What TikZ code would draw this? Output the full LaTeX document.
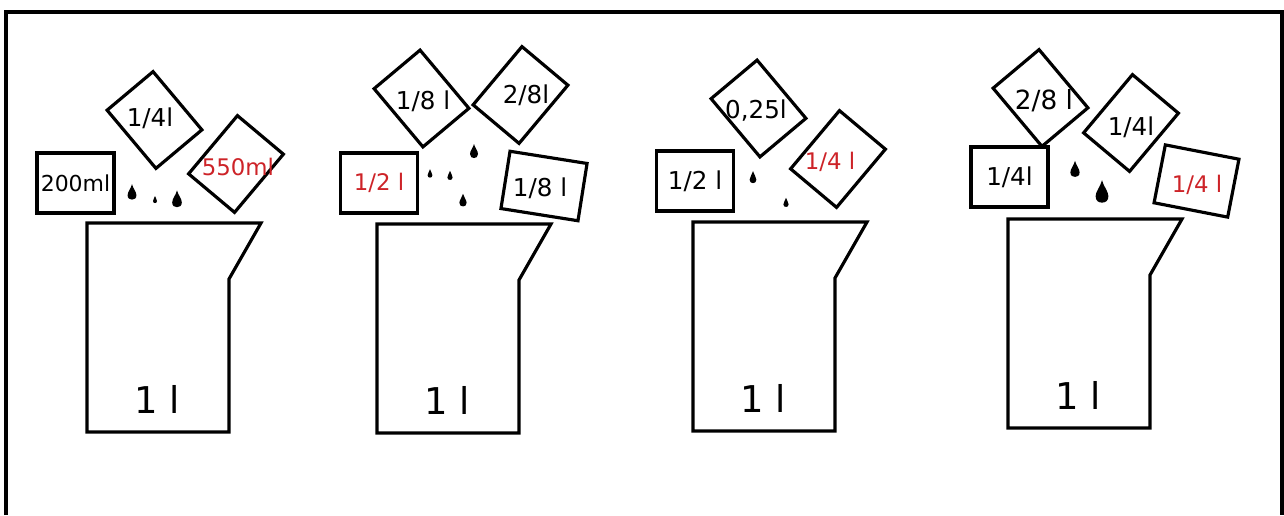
\documentclass[tikz,border=0pt]{standalone}
\usepackage{fontspec}
\setmainfont{DejaVu Sans}
\usepackage{xcolor}
\usepackage{tikz}
\definecolor{jugred}{RGB}{205,35,40}
\tikzset{
  frameline/.style={line width=1.8pt},
  jugline/.style  ={line width=1.8pt, line join=miter},
  labbox/.style   ={rectangle, draw=black, line width=1.8pt, minimum width=1.54cm,
                    minimum height=1.2cm, inner sep=0pt},
  tiltbox/.style  ={labbox, minimum width=1.2cm, minimum height=1.52cm},
  lbl/.style      ={font=\fontsize{14}{16}\selectfont, inner sep=0pt},
  lblbig/.style   ={lbl, font=\fontsize{15}{17}\selectfont},
  lblsm/.style    ={lbl, font=\fontsize{12.5}{14}\selectfont},
  lblred/.style   ={lbl, font=\fontsize{13}{15}\selectfont, text=jugred},
  jugtext/.style  ={font=\fontsize{21}{24}\selectfont, inner sep=0pt},
  jug/.pic={
    \draw[jugline] (0,0) -- (174,0) -- (142,56) -- (142,209) -- (0,209) -- cycle;
    \node[jugtext] (-vol) at (70,176) {1 l};
  },
  drop/.pic={
    \fill (0,-8) .. controls (-1,-4) and (-4,-1) .. (-4,2)
      .. controls (-4,5) and (-2,6) .. (0,6)
      .. controls (2,6) and (4,5) .. (4,2)
      .. controls (4,-1) and (1,-4) .. (0,-8) -- cycle;
  }
}
\begin{document}
\begin{tikzpicture}[x=0.02cm, y=-0.02cm]
  \useasboundingbox (0,0) rectangle (1284,515);
  \draw[frameline] (6,515) -- (6,12) -- (1282,12) -- (1282,515);

  % first jug
  \pic (jugA) at (87,223) {jug};
  \node[labbox, lblsm]        (boxA)  at (75.5,183)  {200ml};
  \node[tiltbox, rotate=40]   (leftA) at (154.5,120) {};
  \node[lbl]                  (txtA1) at (150,118)   {1/4l};
  \node[tiltbox, rotate=-40]  (rgtA)  at (236,164)   {};
  \node[lblred]               (txtA2) at (238,167)   {550ml};
  \pic[scale=1.1] at (132,193) {drop};
  \pic[scale=0.5] at (155,200) {drop};
  \pic[scale=1.2] at (177,200) {drop};

  % second jug
  \pic (jugB) at (377,224) {jug};
  \node[labbox, lblred]       (boxB)  at (379,183)   {1/2 l};
  \node[tiltbox, rotate=40]   (leftB) at (421.5,98.5) {};
  \node[lbl]                  (txtB1) at (423,101)   {1/8 l};
  \node[tiltbox, rotate=-40]  (rgtB)  at (520.5,95)  {};
  \node[lbl]                  (txtB2) at (526,95)    {2/8l};
  \node[labbox, minimum width=1.56cm, minimum height=1.16cm, rotate=-9]
                              (sideB) at (544,186)   {};
  \node[lbl]                  (txtB3) at (540,188)   {1/8 l};
  \pic[scale=1.0]  at (474,152) {drop};
  \pic[scale=0.6]  at (430,174) {drop};
  \pic[scale=0.65] at (450,176) {drop};
  \pic[scale=0.9]  at (463,201) {drop};

  % third jug
  \pic (jugC) at (693,222) {jug};
  \node[labbox, lbl]          (boxC)  at (695,181)   {1/2 l};
  \node[tiltbox, rotate=40]   (leftC) at (758.5,108.5) {};
  \node[lbl]                  (txtC1) at (756,111)   {0,25l};
  \node[tiltbox, rotate=-40]  (rgtC)  at (838,159)   {};
  \node[lblred]               (txtC2) at (830,162)   {1/4 l};
  \pic[scale=0.85] at (753,178) {drop};
  \pic[scale=0.65] at (786,203) {drop};

  % fourth jug
  \pic (jugD) at (1008,219) {jug};
  \node[labbox, lbl]          (boxD)  at (1009.5,177) {1/4l};
  \node[tiltbox, rotate=40]   (leftD) at (1040.5,98) {};
  \node[lblbig]               (txtD1) at (1044,101)  {2/8 l};
  \node[tiltbox, rotate=-40]  (rgtD)  at (1131,123)  {};
  \node[lbl]                  (txtD2) at (1131,127)  {1/4l};
  \node[labbox, minimum width=1.5cm, minimum height=1.18cm, rotate=-11]
                              (sideD) at (1196.5,181) {};
  \node[lblred]               (txtD3) at (1197,185)  {1/4 l};
  \pic[scale=1.15] at (1075,170) {drop};
  \pic[scale=1.6]  at (1102,193) {drop};
\end{tikzpicture}
\end{document}
